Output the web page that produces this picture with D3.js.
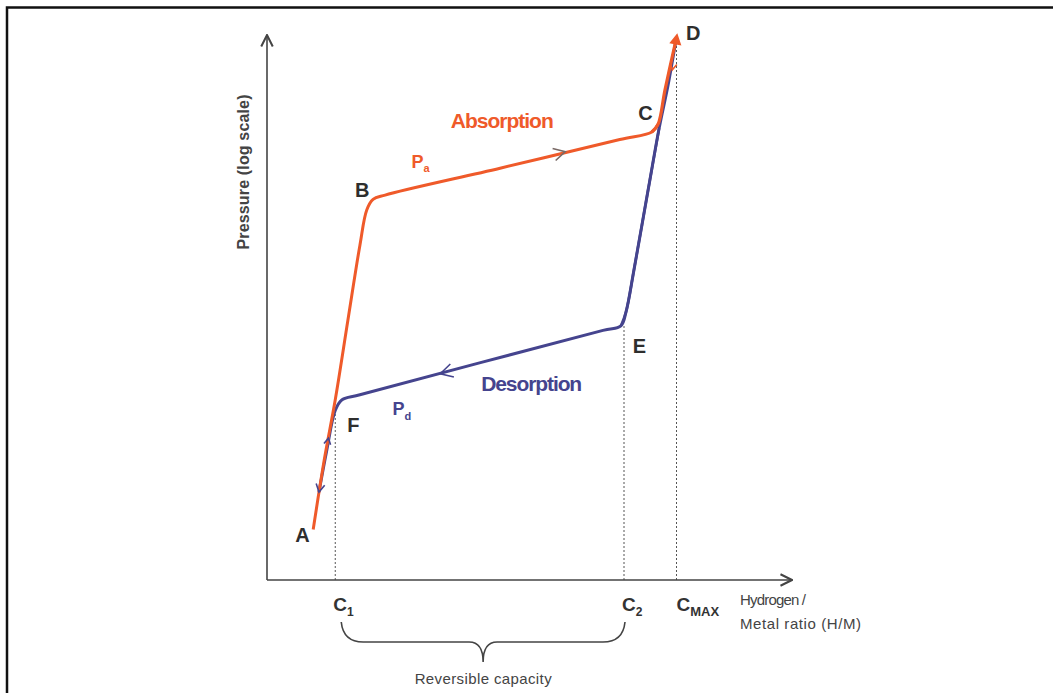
<!DOCTYPE html>
<html>
<head>
<meta charset="utf-8">
<script src="https://cdn.jsdelivr.net/npm/d3@7"></script>
<style>
  body { margin: 0; background: #fff; }
  svg text { font-family: "Liberation Sans", Arial, sans-serif; }
</style>
</head>
<body>
<div id="chart"></div>
<script>

// hydrogen/metal ratio (fraction of axis) and pressure (log scale)
const absorptionHM = [0.088, 0.109, 0.130, 0.154, 0.177, 0.190, 0.202, 0.225, 0.444, 0.672, 0.733, 0.745, 0.758, 0.779];
const absorptionP  = [0.029, 0.126, 0.45, 2.4, 11.8, 24.8, 31, 34, 60, 110, 129, 152, 313, 900];

const desorptionHM = [0.779, 0.764, 0.747, 0.726, 0.699, 0.684, 0.674, 0.640, 0.177, 0.143, 0.130, 0.114, 0.099];
const desorptionP  = [900, 348, 140, 38, 7.0, 2.9, 2.14, 1.95, 0.50, 0.45, 0.36, 0.156, 0.064];

const tickValues = [0.13, 0.68, 0.78];
const tickMain = ["C", "C", "C"];
const tickSub = ["1", "2", "MAX"];

// point labels
const pointNames = ["A", "B", "C", "D", "E", "F"];
const pointHM = [0.088, 0.202, 0.745, 0.779, 0.674, 0.130];
const pointP  = [0.029, 31, 152, 900, 2.14, 0.36];

const absColor = "#ef5a2a";
const desColor = "#45448e";

let margin = {left: 267, top: 35},
    width = 525,
    height = 545;

let svg = d3.select("#chart")
    .append("svg")
    .attr("width", 1053)
    .attr("height", 693);

// picture frame
svg.append("rect")
    .attr("x", 7)
    .attr("y", 7.5)
    .attr("width", 1100)
    .attr("height", 800)
    .attr("fill", "none")
    .attr("stroke", "#111")
    .attr("stroke-width", 2.5);

let g = svg.append("g")
    .attr("transform", `translate(${margin.left},${margin.top})`);

let x = d3.scaleLinear().domain([0, 1]).range([0, width]);
let y = d3.scaleLog().domain([0.01, 1000]).range([height, 0]);

// dotted guide lines
let guideP = [0.36, 2.14, 900];
g.selectAll(".guide")
    .data(tickValues)
    .join("line")
    .attr("class", "guide")
    .attr("x1", d => x(d))
    .attr("x2", d => x(d))
    .attr("y1", height)
    .attr("y2", (d, i) => y(guideP[i]))
    .attr("stroke", "#555")
    .attr("stroke-width", 1)
    .attr("stroke-dasharray", "2,2");

// axes with arrows
svg.append("defs").append("marker")
    .attr("id", "axisArrow")
    .attr("viewBox", "0 0 10 10")
    .attr("refX", 9).attr("refY", 5)
    .attr("markerWidth", 9).attr("markerHeight", 9)
    .attr("orient", "auto")
    .append("path")
    .attr("d", "M1,1 L9,5 L1,9")
    .attr("fill", "none")
    .attr("stroke", "#444")
    .attr("stroke-width", 1.4);

g.append("line")
    .attr("x1", 0).attr("y1", height)
    .attr("x2", width).attr("y2", height)
    .attr("stroke", "#444").attr("stroke-width", 1.6)
    .attr("marker-end", "url(#axisArrow)");

g.append("line")
    .attr("x1", 0).attr("y1", height)
    .attr("x2", 0).attr("y2", 0)
    .attr("stroke", "#444").attr("stroke-width", 1.6)
    .attr("marker-end", "url(#axisArrow)");

// tick labels C1, C2, CMAX
let ticks = g.selectAll(".tick")
    .data(tickValues)
    .join("text")
    .attr("class", "tick")
    .attr("x", (d, i) => x(d) + (i === 2 ? 0 : -2))
    .attr("y", height + 31)
    .attr("text-anchor", "start")
    .attr("fill", "#333")
    .attr("font-weight", "bold")
    .attr("font-size", 19);
ticks.append("tspan").text((d, i) => tickMain[i]);
ticks.append("tspan")
    .attr("dy", 5)
    .attr("font-size", (d, i) => i === 2 ? 13 : 12)
    .text((d, i) => tickSub[i]);

// x axis title
g.append("text")
    .attr("x", 473).attr("y", height + 25)
    .attr("fill", "#444").attr("font-size", 15)
    .attr("textLength", 66)
    .text("Hydrogen /");
g.append("text")
    .attr("x", 473).attr("y", height + 49)
    .attr("fill", "#444").attr("font-size", 15)
    .attr("textLength", 121)
    .text("Metal ratio (H/M)");

// y axis title
g.append("text")
    .attr("transform", `translate(-18, 137) rotate(-90)`)
    .attr("text-anchor", "middle")
    .attr("fill", "#444")
    .attr("font-weight", "bold")
    .attr("font-size", 16)
    .attr("textLength", 155)
    .text("Pressure (log scale)");

// brace for reversible capacity
let bx1 = x(tickValues[0]) + 6, bx2 = x(tickValues[1]) + 1;
let bm = (bx1 + bx2) / 2;
let by = height + 42, bh = height + 62;
g.append("path")
    .attr("d", `M${bx1},${by} Q${bx1 + 2},${bh} ${bx1 + 22},${bh}
                L${bm - 14},${bh} Q${bm},${bh} ${bm},${bh + 20}
                Q${bm},${bh} ${bm + 14},${bh} L${bx2 - 22},${bh}
                Q${bx2 - 2},${bh} ${bx2},${by}`)
    .attr("fill", "none")
    .attr("stroke", "#444")
    .attr("stroke-width", 1.6);

g.append("text")
    .attr("x", bm).attr("y", bh + 42)
    .attr("text-anchor", "middle")
    .attr("fill", "#444").attr("font-size", 15)
    .attr("textLength", 137)
    .text("Reversible capacity");

// curves
let line = d3.line()
    .x(d => x(d[0]))
    .y(d => y(d[1]))
    .curve(d3.curveCatmullRom.alpha(0.5));

let absData = absorptionHM.map((h, i) => [h, absorptionP[i]]);
let desData = desorptionHM.map((h, i) => [h, desorptionP[i]]);

g.append("path")
    .datum(desData)
    .attr("d", line)
    .attr("fill", "none")
    .attr("stroke", desColor)
    .attr("stroke-width", 3);

g.append("path")
    .datum(absData.slice(0, 12))
    .attr("d", line)
    .attr("fill", "none")
    .attr("stroke", absColor)
    .attr("stroke-width", 3);

g.append("path")
    .datum(absData.slice(10))
    .attr("d", line)
    .attr("fill", "none")
    .attr("stroke", absColor)
    .attr("stroke-width", 3.2);

// redraw steep desorption C->E over the absorption end so it stays blue
g.append("path")
    .datum(desData.slice(2, 7))
    .attr("d", line)
    .attr("fill", "none")
    .attr("stroke", desColor)
    .attr("stroke-width", 2.6);

// open chevron arrowheads along the curves
function chevron(from, to, color, size, filled) {
    let x0 = x(from[0]), y0 = y(from[1]);
    let x1 = x(to[0]), y1 = y(to[1]);
    let a = Math.atan2(y1 - y0, x1 - x0);
    let s = size;
    let p1 = [x1 - s * Math.cos(a - 0.5), y1 - s * Math.sin(a - 0.5)];
    let p2 = [x1 - s * Math.cos(a + 0.5), y1 - s * Math.sin(a + 0.5)];
    g.append("path")
        .attr("d", filled
            ? `M${p1[0]},${p1[1]} L${x1},${y1} L${p2[0]},${p2[1]} Z`
            : `M${p1[0]},${p1[1]} L${x1},${y1} L${p2[0]},${p2[1]}`)
        .attr("fill", filled ? color : "none")
        .attr("stroke", color)
        .attr("stroke-width", 1.6);
}

chevron([0.444, 60], [0.568, 85], "#7a6a66", 13, false);
chevron([0.482, 1.24], [0.330, 0.78], desColor, 14, false);
chevron([0.764, 348], [0.781, 1000], absColor, 10, true);
chevron([0.779, 700], [0.772, 480], absColor, 7, false);
chevron([0.114, 0.156], [0.099, 0.064], desColor, 9, false);
chevron([0.099, 0.07], [0.117, 0.2], desColor, 7, false);

// curve labels
g.append("text")
    .attr("x", x(0.35)).attr("y", 93)
    .attr("fill", absColor).attr("font-weight", "bold").attr("font-size", 21)
    .attr("textLength", 103)
    .text("Absorption");

let pa = g.append("text")
    .attr("x", x(0.275)).attr("y", 133)
    .attr("fill", absColor).attr("font-weight", "bold").attr("font-size", 18);
pa.append("tspan").text("P");
pa.append("tspan").attr("dy", 4).attr("font-size", 11).text("a");

g.append("text")
    .attr("x", x(0.408)).attr("y", 356)
    .attr("fill", desColor).attr("font-weight", "bold").attr("font-size", 21)
    .attr("textLength", 101)
    .text("Desorption");

let pd = g.append("text")
    .attr("x", x(0.239)).attr("y", 380)
    .attr("fill", desColor).attr("font-weight", "bold").attr("font-size", 18);
pd.append("tspan").text("P");
pd.append("tspan").attr("dy", 5).attr("font-size", 11).text("d");

// point letters
let offsets = [[-18, 12], [-18, -2], [-20, -4], [10, 0], [12, 27], [12, 22]];
g.selectAll(".pt")
    .data(pointNames)
    .join("text")
    .attr("class", "pt")
    .attr("x", (d, i) => x(pointHM[i]) + offsets[i][0])
    .attr("y", (d, i) => y(pointP[i]) + offsets[i][1])
    .attr("fill", "#2e2e2e")
    .attr("font-weight", "bold")
    .attr("font-size", 20)
    .text(d => d);

</script>
</body>
</html>
